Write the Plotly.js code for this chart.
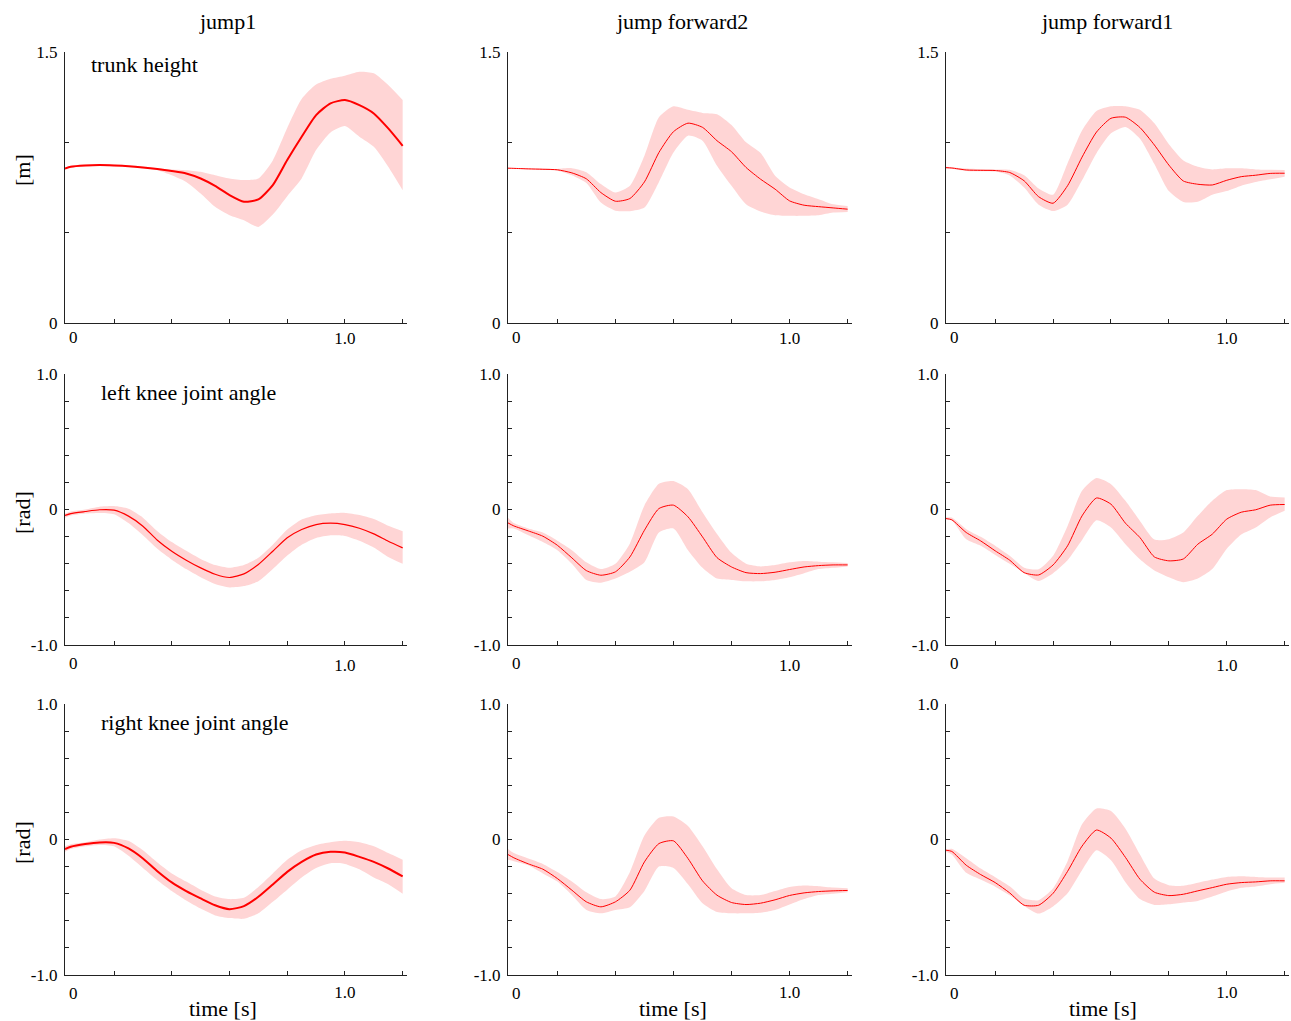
<!DOCTYPE html>
<html><head><meta charset="utf-8">
<script src="https://cdn.plot.ly/plotly-3.0.1.min.js"></script>
<style>html,body{margin:0;padding:0;background:#fff}#chart{width:1291px;height:1021px}</style>
</head><body><div id="chart"></div>
<script>
// ---------------- DATA ----------------
const time = [0.03,0.05,0.1,0.15,0.2,0.25,0.3,0.35,0.4,0.45,0.5,0.55,0.6,0.65,0.7,0.75,0.8,0.85,0.9,0.95,1.0,1.05,1.1,1.15,1.2];
const columnTitles = ['jump1','jump forward2','jump forward1'];
const rowLabels = ['trunk height','left knee joint angle','right knee joint angle'];
const rowUnits = ['[m]','[rad]','[rad]'];
const xAxisTitle = 'time [s]';
const xTickVals = [0.2,0.4,0.6,0.8,1.0,1.2];
const xTickText = ['','','','','1.0',''];
const xZeroLabel = '0';
const trunkTickVals = [0,0.5,1.0,1.5];
const trunkTickText = ['0','','','1.5'];
const angleTickVals = [-1,-0.8,-0.6,-0.4,-0.2,0,0.2,0.4,0.6,0.8,1];
const angleTickText = ['-1.0','','','','','0','','','','','1.0'];

// jump1
const jump1TrunkMean  = [0.855,0.865,0.872,0.874,0.872,0.868,0.861,0.852,0.841,0.828,0.80,0.759,0.708,0.671,0.684,0.763,0.902,1.031,1.151,1.216,1.234,1.206,1.160,1.077,0.981];
const jump1TrunkUpper = [0.86,0.87,0.877,0.879,0.877,0.873,0.866,0.857,0.85,0.846,0.837,0.818,0.80,0.791,0.80,0.90,1.08,1.24,1.32,1.352,1.369,1.391,1.382,1.317,1.234];
const jump1TrunkLower = [0.85,0.86,0.867,0.869,0.867,0.863,0.856,0.846,0.818,0.781,0.717,0.643,0.597,0.569,0.532,0.60,0.702,0.80,0.957,1.055,1.09,1.031,0.975,0.865,0.735];
const jump1LKneeMean  = [-0.044,-0.03,-0.015,-0.002,-0.005,-0.049,-0.123,-0.227,-0.308,-0.374,-0.431,-0.478,-0.502,-0.475,-0.406,-0.308,-0.209,-0.148,-0.111,-0.101,-0.111,-0.138,-0.18,-0.234,-0.283];
const jump1LKneeUpper = [-0.03,-0.015,0.0,0.02,0.025,0.005,-0.06,-0.16,-0.24,-0.305,-0.365,-0.41,-0.43,-0.41,-0.357,-0.26,-0.148,-0.074,-0.042,-0.03,-0.025,-0.04,-0.07,-0.12,-0.16];
const jump1LKneeLower = [-0.06,-0.045,-0.03,-0.025,-0.035,-0.1,-0.19,-0.29,-0.37,-0.44,-0.5,-0.55,-0.575,-0.565,-0.53,-0.44,-0.34,-0.26,-0.21,-0.19,-0.195,-0.23,-0.28,-0.35,-0.4];
const jump1RKneeMean  = [-0.071,-0.054,-0.034,-0.022,-0.025,-0.066,-0.14,-0.234,-0.317,-0.381,-0.435,-0.485,-0.514,-0.492,-0.423,-0.332,-0.239,-0.165,-0.111,-0.091,-0.096,-0.128,-0.165,-0.214,-0.273];
const jump1RKneeUpper = [-0.05,-0.035,-0.02,0.0,0.01,-0.01,-0.08,-0.17,-0.25,-0.31,-0.37,-0.42,-0.44,-0.43,-0.35,-0.25,-0.15,-0.08,-0.04,-0.02,-0.01,-0.02,-0.05,-0.10,-0.15];
const jump1RKneeLower = [-0.09,-0.07,-0.05,-0.04,-0.05,-0.12,-0.21,-0.3,-0.38,-0.45,-0.51,-0.56,-0.58,-0.585,-0.545,-0.46,-0.37,-0.28,-0.21,-0.175,-0.18,-0.22,-0.28,-0.33,-0.4];

// jump forward2
const fwd2TrunkMean  = [0.857,0.856,0.853,0.851,0.848,0.831,0.798,0.722,0.674,0.689,0.781,0.944,1.059,1.106,1.083,1.009,0.948,0.861,0.796,0.741,0.676,0.652,0.644,0.637,0.63];
const fwd2TrunkUpper = [0.858,0.858,0.856,0.854,0.853,0.857,0.835,0.769,0.722,0.759,0.926,1.139,1.2,1.18,1.163,1.156,1.096,1.0,0.941,0.815,0.75,0.713,0.685,0.657,0.648];
const fwd2TrunkLower = [0.856,0.854,0.851,0.847,0.843,0.818,0.775,0.667,0.622,0.619,0.639,0.781,0.944,1.037,1.009,0.87,0.759,0.657,0.617,0.596,0.593,0.593,0.596,0.611,0.615];
const fwd2LKneeMean  = [-0.099,-0.121,-0.158,-0.197,-0.264,-0.357,-0.451,-0.485,-0.46,-0.35,-0.153,0.007,0.032,-0.054,-0.202,-0.355,-0.424,-0.466,-0.473,-0.463,-0.443,-0.424,-0.414,-0.409,-0.409];
const fwd2LKneeUpper = [-0.06,-0.10,-0.14,-0.17,-0.23,-0.3,-0.39,-0.44,-0.4,-0.25,0.03,0.19,0.21,0.15,-0.02,-0.18,-0.32,-0.4,-0.42,-0.41,-0.39,-0.38,-0.385,-0.39,-0.395];
const fwd2LKneeLower = [-0.14,-0.14,-0.19,-0.24,-0.3,-0.4,-0.52,-0.54,-0.51,-0.46,-0.39,-0.17,-0.14,-0.3,-0.43,-0.51,-0.52,-0.53,-0.53,-0.52,-0.5,-0.47,-0.44,-0.43,-0.42];
const fwd2RKneeMean  = [-0.111,-0.135,-0.18,-0.219,-0.288,-0.374,-0.46,-0.497,-0.46,-0.374,-0.165,-0.03,-0.01,-0.14,-0.305,-0.411,-0.465,-0.48,-0.47,-0.445,-0.413,-0.394,-0.384,-0.379,-0.376];
const fwd2RKneeUpper = [-0.07,-0.1,-0.14,-0.18,-0.24,-0.31,-0.39,-0.44,-0.42,-0.24,0.03,0.16,0.17,0.1,-0.05,-0.22,-0.36,-0.41,-0.41,-0.38,-0.35,-0.34,-0.345,-0.355,-0.36];
const fwd2RKneeLower = [-0.15,-0.16,-0.19,-0.25,-0.31,-0.41,-0.52,-0.545,-0.52,-0.5,-0.38,-0.2,-0.21,-0.33,-0.47,-0.535,-0.545,-0.545,-0.54,-0.52,-0.48,-0.44,-0.41,-0.4,-0.39];

// jump forward1
const fwd1TrunkMean  = [0.86,0.858,0.847,0.845,0.844,0.833,0.787,0.699,0.663,0.76,0.918,1.057,1.133,1.139,1.082,0.985,0.874,0.786,0.768,0.764,0.79,0.81,0.818,0.828,0.829];
const fwd1TrunkUpper = [0.865,0.862,0.855,0.852,0.85,0.848,0.818,0.745,0.71,0.884,1.066,1.174,1.20,1.20,1.18,1.105,0.99,0.90,0.865,0.85,0.856,0.856,0.85,0.848,0.847];
const fwd1TrunkLower = [0.855,0.853,0.842,0.84,0.838,0.817,0.75,0.655,0.62,0.655,0.79,0.94,1.05,1.085,1.02,0.88,0.73,0.67,0.671,0.71,0.73,0.76,0.78,0.795,0.81];
const fwd1LKneeMean  = [-0.067,-0.076,-0.17,-0.232,-0.305,-0.374,-0.466,-0.483,-0.409,-0.268,-0.047,0.085,0.039,-0.101,-0.207,-0.35,-0.379,-0.365,-0.256,-0.182,-0.071,-0.02,-0.002,0.032,0.037];
const fwd1LKneeUpper = [-0.059,-0.059,-0.145,-0.202,-0.268,-0.342,-0.429,-0.441,-0.342,-0.121,0.138,0.232,0.187,0.064,-0.084,-0.222,-0.219,-0.17,-0.047,0.064,0.143,0.15,0.143,0.096,0.089];
const fwd1LKneeLower = [-0.071,-0.08,-0.22,-0.268,-0.335,-0.4,-0.468,-0.527,-0.47,-0.375,-0.226,-0.08,-0.133,-0.256,-0.367,-0.45,-0.5,-0.537,-0.51,-0.44,-0.29,-0.185,-0.133,-0.059,-0.01];
const fwd1RKneeMean  = [-0.079,-0.088,-0.19,-0.259,-0.318,-0.394,-0.485,-0.485,-0.397,-0.235,-0.049,0.07,0.01,-0.132,-0.293,-0.389,-0.414,-0.404,-0.379,-0.355,-0.33,-0.318,-0.313,-0.305,-0.305];
const fwd1RKneeUpper = [-0.074,-0.069,-0.138,-0.214,-0.278,-0.345,-0.436,-0.448,-0.36,-0.16,0.112,0.229,0.21,0.08,-0.11,-0.288,-0.337,-0.342,-0.32,-0.296,-0.276,-0.271,-0.276,-0.281,-0.281];
const fwd1RKneeLower = [-0.091,-0.111,-0.246,-0.296,-0.348,-0.411,-0.49,-0.547,-0.494,-0.397,-0.227,-0.08,-0.153,-0.315,-0.44,-0.483,-0.478,-0.465,-0.453,-0.421,-0.384,-0.357,-0.347,-0.33,-0.32];

// ---------------- LAYOUT / STYLE ----------------
const W = 1291, H = 1021;
const colPx = [[65,407],[508,852],[946,1289]];
const rowPx = [[52,323],[374,645],[704,975]];
const FONT = 'Liberation Serif, Times New Roman, serif';
const AXC = '#222';
const BAND = '#ffd5d5';
const LINE = '#ff0000';

const panels = [
  [ {m:jump1TrunkMean,u:jump1TrunkUpper,l:jump1TrunkLower,w:2},
    {m:fwd2TrunkMean,u:fwd2TrunkUpper,l:fwd2TrunkLower,w:1},
    {m:fwd1TrunkMean,u:fwd1TrunkUpper,l:fwd1TrunkLower,w:1} ],
  [ {m:jump1LKneeMean,u:jump1LKneeUpper,l:jump1LKneeLower,w:1.2},
    {m:fwd2LKneeMean,u:fwd2LKneeUpper,l:fwd2LKneeLower,w:1},
    {m:fwd1LKneeMean,u:fwd1LKneeUpper,l:fwd1LKneeLower,w:1} ],
  [ {m:jump1RKneeMean,u:jump1RKneeUpper,l:jump1RKneeLower,w:2},
    {m:fwd2RKneeMean,u:fwd2RKneeUpper,l:fwd2RKneeLower,w:1},
    {m:fwd1RKneeMean,u:fwd1RKneeUpper,l:fwd1RKneeLower,w:1} ]
];

const px = x => x / W;
const py = y => 1 - y / H;

const traces = [];
const layout = {
  width: W, height: H,
  margin: {l:0, r:0, t:0, b:0},
  paper_bgcolor: '#fff', plot_bgcolor: 'rgba(0,0,0,0)',
  showlegend: false,
  font: {family: FONT, color: '#000'},
  annotations: []
};

const xLabelY = [337, 663, 993];
const xStandoff = [0, 5, 2];

for (let r = 0; r < 3; r++) {
  for (let c = 0; c < 3; c++) {
    const n = r * 3 + c + 1;
    const xa = 'x' + (n === 1 ? '' : n), ya = 'y' + (n === 1 ? '' : n);
    const p = panels[r][c];
    traces.push({x: time, y: p.l, xaxis: xa, yaxis: ya, type: 'scatter', mode: 'lines',
      line: {width: 0, color: BAND, shape: 'spline', smoothing: 0.6}, hoverinfo: 'skip'});
    traces.push({x: time, y: p.u, xaxis: xa, yaxis: ya, type: 'scatter', mode: 'lines',
      fill: 'tonexty', fillcolor: BAND,
      line: {width: 0, color: BAND, shape: 'spline', smoothing: 0.6}, hoverinfo: 'skip'});
    traces.push({x: time, y: p.m, xaxis: xa, yaxis: ya, type: 'scatter', mode: 'lines',
      line: {width: p.w, color: LINE, shape: 'spline', smoothing: 0.6}});

    const common = {
      showline: true, linecolor: AXC, linewidth: 1,
      ticks: 'inside', ticklen: 4, tickwidth: 1, tickcolor: AXC,
      showgrid: false, zeroline: false, fixedrange: true,
      tickfont: {family: FONT, size: 17, color: '#000'}
    };
    layout['xaxis' + (n === 1 ? '' : n)] = Object.assign({}, common, {
      domain: [px(colPx[c][0]), px(colPx[c][1])],
      anchor: ya, range: [0.03, 1.215],
      tickmode: 'array', tickvals: xTickVals, ticktext: xTickText,
      ticklabelstandoff: xStandoff[r]
    });
    layout['yaxis' + (n === 1 ? '' : n)] = Object.assign({}, common, {
      domain: [py(rowPx[r][1]), py(rowPx[r][0])],
      anchor: xa,
      range: r === 0 ? [0, 1.5] : [-1, 1],
      tickmode: 'array',
      tickvals: r === 0 ? trunkTickVals : angleTickVals,
      ticktext: r === 0 ? trunkTickText : angleTickText,
      ticklabelstandoff: 3
    });
    // "0" label on the time axis
    layout.annotations.push({xref: 'paper', yref: 'paper',
      x: px(colPx[c][0] + 8), y: py(xLabelY[r]), text: xZeroLabel, showarrow: false,
      xanchor: 'center', yanchor: 'middle', font: {family: FONT, size: 17, color: '#000'}});
  }
}

// column titles
const titleX = [227, 682, 1107];
columnTitles.forEach((t, c) => layout.annotations.push({xref:'paper', yref:'paper',
  x: px(titleX[c]), y: py(21), text: t, showarrow: false, xanchor: 'center', yanchor: 'middle',
  font: {family: FONT, size: 22, color: '#000'}}));
// row labels inside first column
const rowLabelPos = [[89, 64], [99, 393], [99, 722]];
rowLabels.forEach((t, r) => layout.annotations.push({xref:'paper', yref:'paper',
  x: px(rowLabelPos[r][0]), y: py(rowLabelPos[r][1]), text: t, showarrow: false,
  xanchor: 'left', yanchor: 'middle', font: {family: FONT, size: 22, color: '#000'}}));
// units
const unitY = [170, 513, 843];
rowUnits.forEach((t, r) => layout.annotations.push({xref:'paper', yref:'paper',
  x: px(22), y: py(unitY[r]), text: t, showarrow: false, textangle: -90,
  xanchor: 'center', yanchor: 'middle', font: {family: FONT, size: 22, color: '#000'}}));
// time labels
const timeX = [223, 673, 1103];
timeX.forEach(x => layout.annotations.push({xref:'paper', yref:'paper',
  x: px(x), y: py(1008), text: xAxisTitle, showarrow: false, xanchor: 'center', yanchor: 'middle',
  font: {family: FONT, size: 22, color: '#000'}}));

Plotly.newPlot('chart', traces, layout, {staticPlot: true, displayModeBar: false});
</script>
</body></html>
